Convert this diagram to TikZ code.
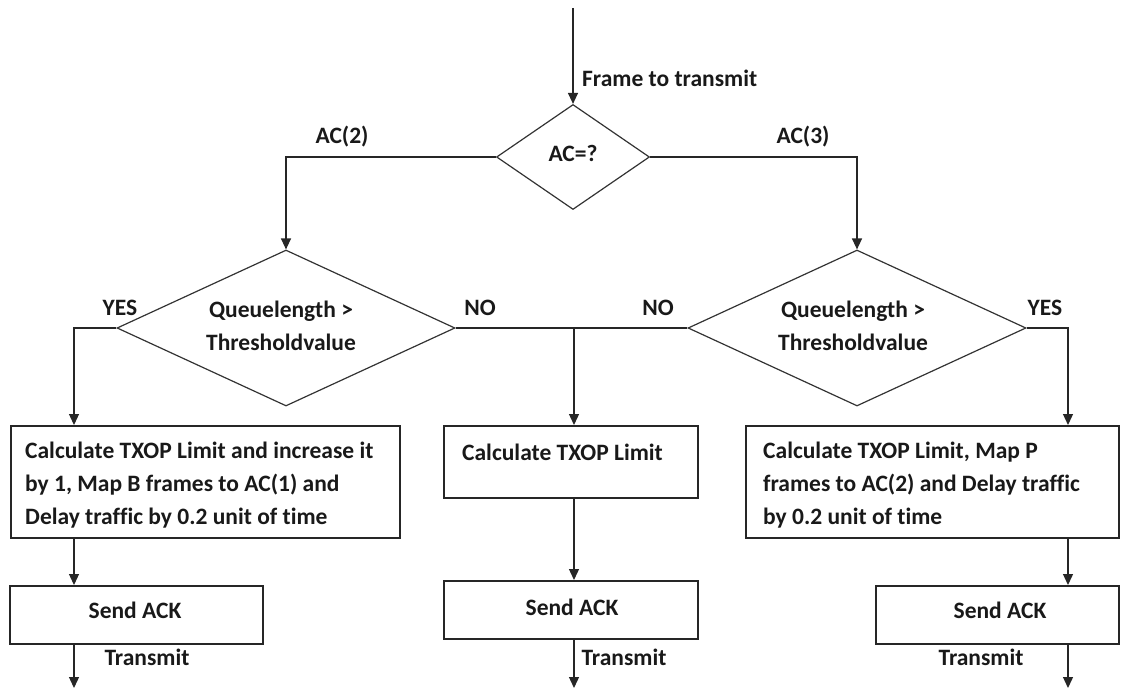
\documentclass[tikz,border=0pt]{standalone}
\usepackage{fontspec}
\setmainfont{Carlito}[Ligatures=NoCommon]
\usetikzlibrary{arrows.meta,shapes.geometric}
\begin{document}
\begin{tikzpicture}[x=1pt,y=-1pt,
  flow/.style={line width=1.3pt, draw=black!85},
  arr/.style={flow, -{Triangle[length=11pt,width=10pt]}},
  box/.style={draw=black!85, line width=1.5pt, inner sep=0pt},
  dec/.style={diamond, draw=black!80, line width=1.2pt, inner sep=0pt},
  txt/.style={font=\fontsize{23.5}{33}\selectfont\bfseries, text=black!90, inner sep=0pt},
]
\useasboundingbox (0,0) rectangle (1121,690);

% columns of the three branches
\coordinate (colL) at (74,0);
\coordinate (colM) at (574,0);
\coordinate (colR) at (1068,0);

% decisions
\node[dec, minimum width=153, minimum height=105] (acq) at (573,157) {};
\node[txt] (acqt) at (573,153) {AC=?};
\node[dec, minimum width=338, minimum height=156] (dL) at (286,328) {};
\node[txt, align=center] (dLt) at (281,326) {Queuelength >\\Thresholdvalue};
\node[dec, minimum width=338, minimum height=156] (dR) at (857,328) {};
\node[txt, align=center] (dRt) at (853,326) {Queuelength >\\Thresholdvalue};

% process boxes
\node[box, anchor=north west, minimum width=389, minimum height=112] (b1) at (10,425) {};
\node[txt, anchor=west, align=left] (b1t) at (25,485) {Calculate TXOP Limit and increase it\\by 1, Map B frames to AC(1) and\\Delay traffic by 0.2 unit of time};
\node[box, anchor=north west, minimum width=254, minimum height=72] (b2) at (443,425) {};
\node[txt, anchor=west] (b2t) at (462,452) {Calculate TXOP Limit};
\node[box, anchor=north west, minimum width=373, minimum height=112] (b3) at (745,425) {};
\node[txt, anchor=west, align=left] (b3t) at (763,485) {Calculate TXOP Limit, Map P\\frames to AC(2) and Delay traffic\\by 0.2 unit of time};

% acknowledgement boxes
\node[box, anchor=north west, minimum width=253, minimum height=58] (s1) at (9,585) {};
\node[txt] (s1t) at (135,610) {Send ACK};
\node[box, anchor=north west, minimum width=254, minimum height=58] (s2) at (443,580) {};
\node[txt] (s2t) at (572,607) {Send ACK};
\node[box, anchor=north west, minimum width=243, minimum height=58] (s3) at (875,585) {};
\node[txt] (s3t) at (1000,610) {Send ACK};

% free ends
\coordinate (in) at (573,8);
\coordinate (outL) at (74,688);
\coordinate (outM) at (574,688);
\coordinate (outR) at (1068,688);

% connectors
\draw[arr] (in) -- (acq.north);
\draw[arr] (acq.west) -| (dL.north);
\draw[arr] (acq.east) -| (dR.north);
\draw[arr] (dL.west) -| (colL |- b1.north);
\draw[flow] (dL.east) -- (dR.west);
\draw[arr] (colM |- dL.east) -- (colM |- b2.north);
\draw[arr] (dR.east) -| (colR |- b3.north);
\draw[arr] (colL |- b1.south) -- (colL |- s1.north);
\draw[arr] (colM |- b2.south) -- (colM |- s2.north);
\draw[arr] (colR |- b3.south) -- (colR |- s3.north);
\draw[arr] (colL |- s1.south) -- (outL);
\draw[arr] (colM |- s2.south) -- (outM);
\draw[arr] (colR |- s3.south) -- (outR);

% labels
\node[txt, anchor=west] (lin) at (582,78) {Frame to transmit};
\node[txt] (lac2) at (342,137) {AC(2)};
\node[txt] (lac3) at (803,137) {AC(3)};
\node[txt] (lyl) at (120,308) {YES};
\node[txt] (lnl) at (480,308) {NO};
\node[txt] (lnr) at (658,308) {NO};
\node[txt] (lyr) at (1045,308) {YES};
\node[txt] (ltl) at (147,657) {Transmit};
\node[txt] (ltm) at (624,657) {Transmit};
\node[txt] (ltr) at (981,657) {Transmit};
\end{tikzpicture}
\end{document}
